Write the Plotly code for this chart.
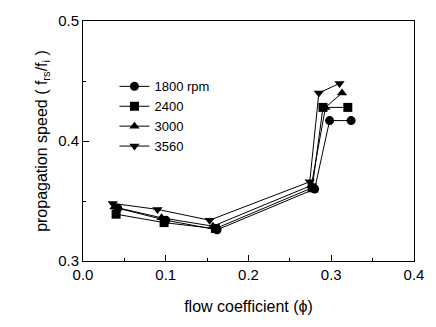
import plotly.graph_objects as go

series_names = ["1800 rpm", "2400", "3000", "3560"]
symbols = ["circle", "square", "triangle-up", "triangle-down"]

x_1800 = [0.042, 0.100, 0.162, 0.280, 0.298, 0.324]
y_1800 = [0.344, 0.334, 0.326, 0.360, 0.417, 0.417]
x_2400 = [0.040, 0.098, 0.160, 0.277, 0.290, 0.320]
y_2400 = [0.339, 0.332, 0.327, 0.361, 0.428, 0.428]
x_3000 = [0.038, 0.095, 0.157, 0.276, 0.293, 0.313]
y_3000 = [0.345, 0.336, 0.329, 0.363, 0.428, 0.440]
x_3560 = [0.036, 0.090, 0.153, 0.274, 0.285, 0.310]
y_3560 = [0.348, 0.343, 0.334, 0.366, 0.440, 0.448]

xs = [x_1800, x_2400, x_3000, x_3560]
ys = [y_1800, y_2400, y_3000, y_3560]

fig = go.Figure()
for name, sym, x, y in zip(series_names, symbols, xs, ys):
    fig.add_trace(go.Scatter(
        x=x, y=y, name=name, mode="lines+markers",
        line=dict(color="black", width=1),
        marker=dict(symbol=sym, size=9, color="black"),
    ))

font = dict(family="Liberation Sans, Arial, sans-serif", size=15, color="black")
fig.update_layout(
    width=436, height=327,
    margin=dict(l=83, r=18, t=12, b=66),
    paper_bgcolor="white", plot_bgcolor="white",
    font=font,
    showlegend=True,
    legend=dict(x=0.095, y=0.79, xanchor="left", yanchor="top",
                bgcolor="rgba(0,0,0,0)", font=dict(size=13),
                tracegroupgap=0, itemsizing="trace", itemwidth=30),
)
fig.update_xaxes(
    range=[0.0, 0.4], tickvals=[0.0, 0.1, 0.2, 0.3, 0.4],
    ticktext=["0.0", "0.1", "0.2", "0.3", "0.4"],
    ticks="inside", ticklen=6, tickcolor="black",
    minor=dict(dtick=0.05, ticks="inside", ticklen=3, tickcolor="black"),
    showline=True, linecolor="black", linewidth=1, mirror=True,
    showgrid=False, zeroline=False, tickfont=dict(size=15),
    title=dict(text="flow coefficient (\u03d5)", font=dict(size=16), standoff=18),
)
fig.update_yaxes(
    range=[0.3, 0.5], tickvals=[0.3, 0.4, 0.5],
    ticktext=["0.3", "0.4", "0.5"],
    ticks="inside", ticklen=6, tickcolor="black",
    minor=dict(dtick=0.05, ticks="inside", ticklen=3, tickcolor="black"),
    showline=True, linecolor="black", linewidth=1, mirror=True,
    showgrid=False, zeroline=False, tickfont=dict(size=15),
    title=dict(text="propagation speed ( f<sub>rs</sub>/f<sub>i</sub> )", font=dict(size=16), standoff=6),
)
fig.write_html("out.html")
